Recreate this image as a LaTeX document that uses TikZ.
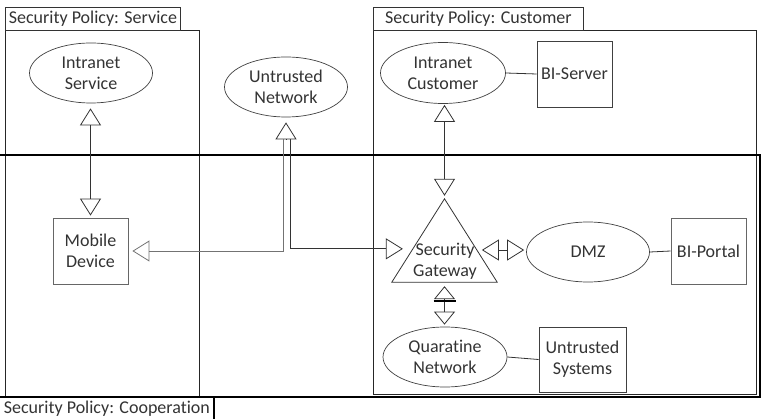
\documentclass[tikz,border=0pt]{standalone}
\usepackage{fontspec}
\setmainfont{Carlito}[RawFeature={-liga;-clig;-dlig;-calt}]
\usetikzlibrary{arrows.meta,shapes.geometric,calc}
\tikzset{
  >={Triangle[open,length=17pt,width=21pt]},
  txt/.style={text=black!80, font=\fontsize{18}{21}\selectfont, align=center, inner sep=0pt},
  ell/.style={txt, draw=black!75, line width=0.7pt, ellipse, minimum width=123pt, minimum height=60pt},
  boxn/.style={txt, draw=black!75, line width=0.8pt, rectangle, minimum width=75pt, minimum height=66pt},
  tab/.style={txt, draw=black!80, line width=0.8pt, rectangle, minimum height=23pt, anchor=north west},
  frame/.style={draw=black!85, line width=0.8pt},
  coop/.style={draw=black, line width=2.4pt},
  conn/.style={draw=black!80, line width=0.8pt},
  sq/.style={>={Triangle[open,length=13pt,width=21pt]}}
}
\begin{document}
\begin{tikzpicture}[x=1pt,y=-1pt]
\useasboundingbox (0,0) rectangle (762,419);
% frames
\draw[frame] (5,30) rectangle (199,396);
\node[tab, minimum width=175pt] (tabS) at (5,7) {Security Policy: Service};
\draw[frame] (373,30) rectangle (756,394);
\node[tab, minimum width=210pt] (tabC) at (373,7) {Security Policy: Customer};
\draw[coop] (0,155) -- (760,155) -- (760,397) -- (0,397);
\node[tab, minimum width=213pt, draw=none] (tabP) at (0,397) {Security Policy: Cooperat\kern0pt ion};
\draw[coop] (tabP.north east) -- (tabP.north east |- 0,420);

% nodes
\node[ell] (is) at (91,73) {Intranet\\Service};
\node[ell] (un) at (286,87) {Untrusted\\Network};
\node[ell, minimum width=125pt, minimum height=61pt] (ic) at (443,73) {Intranet\\Customer};
\node[boxn] (bis) at (574.5,74) {BI-Server};
\node[boxn, draw=black!60] (md) at (90.5,251) {Mobile\\Device};
\node[minimum width=105pt, minimum height=83pt, inner sep=0pt] (gw) at (444.5,240.5) {};
\draw[conn] (gw.south west) -- (gw.north) -- (gw.south east) -- cycle;
\node[txt] (gwt) at (445,261) {Security\\Gateway};
\node[ell] (dmz) at (588,252) {DMZ};
\node[boxn, draw=black!60] (bip) at (708.5,251) {BI-Portal};
\node[ell, minimum width=124pt] (qn) at (445,357) {Quarat\kern0pt ine\\Network};
\node[boxn, minimum width=87pt, minimum height=65pt] (us) at (582.5,359.5) {Untrusted\\Systems};

% helper coordinates
\coordinate (unb) at ([yshift=-22pt]un.south);
\coordinate (gwL) at ($(gw.south west)!0.4!(gw.north)$);
\coordinate (gwR) at ($(gw.south east)!0.386!(gw.north)$);

% connectors
\draw[conn,<->, shorten <=5pt, shorten >=2pt] (md.north |- is.south) -- (md.north);
\draw[conn,->] (unb) -- ([yshift=-5pt]un.south);
\draw[conn,draw=black!55,->, shorten >=4pt] ([xshift=-3pt]unb) |- (md.east);
\draw[conn,->, shorten >=10pt] ([xshift=4pt]unb) |- (gwL);
\draw[conn,<->, shorten <=1pt, shorten >=3pt] (gw.north |- ic.south) -- (gw.north);
\draw[conn] (ic.east) -- (bis.west);
\draw[conn,<->, shorten <=5pt, shorten >=2pt] (gwR) -- (dmz.west |- gwR);
\draw[conn] (dmz.east) -- (bip.west);
\draw[conn,sq,<->, shorten <=4pt, shorten >=2pt] (gw.south) -- (gw.south |- qn.north);
\draw[black, line width=1.8pt] ([xshift=-11pt,yshift=-19pt]gw.south) -- ([xshift=11pt,yshift=-19pt]gw.south);
\draw[conn] (qn.east) -- (us.west);
\end{tikzpicture}
\end{document}
